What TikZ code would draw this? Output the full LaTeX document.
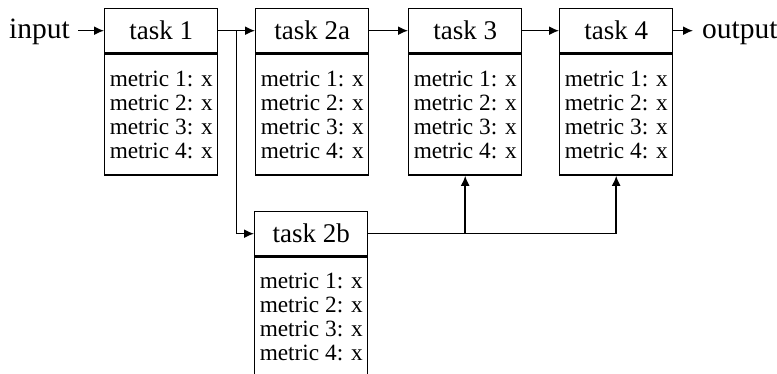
\documentclass[tikz,border=0pt]{standalone}
\usepackage{fontspec}
\setmainfont{Liberation Serif}
\usetikzlibrary{arrows.meta,calc}
\begin{document}
\begin{tikzpicture}[x=1pt,y=-1pt,
  head/.style={draw, line width=1.4pt, minimum width=113pt, minimum height=44pt, inner sep=0pt,
    font=\fontsize{27}{30}\selectfont, anchor=north west},
  body/.style={draw, line width=1.4pt, minimum width=113pt, minimum height=121pt, inner sep=0pt,
    font=\fontsize{23.3}{24}\selectfont, align=left, anchor=north},
  lbl/.style={inner sep=0pt, font=\fontsize{29.5}{32}\selectfont},
  arr/.style={line width=1.5pt, -{Latex[length=10pt,width=9pt]}}]
\useasboundingbox (0,0) rectangle (777,373);
\node[head] (h1) at (104,8) {task 1};
\node[body] (b1) at (h1.south) {metric 1: x\\metric 2: x\\metric 3: x\\metric 4: x};
\node[head] (h2a) at (255,8) {task 2a};
\node[body] (b2a) at (h2a.south) {metric 1: x\\metric 2: x\\metric 3: x\\metric 4: x};
\node[head] (h3) at (408,8) {task 3};
\node[body] (b3) at (h3.south) {metric 1: x\\metric 2: x\\metric 3: x\\metric 4: x};
\node[head] (h4) at (559,8) {task 4};
\node[body] (b4) at (h4.south) {metric 1: x\\metric 2: x\\metric 3: x\\metric 4: x};
\node[head] (h2b) at (254,211) {task 2b};
\node[body, minimum height=119pt] (b2b) at (h2b.south) {metric 1: x\\metric 2: x\\metric 3: x\\metric 4: x};
\node[lbl, anchor=base east] (in) at (70,38) {input};
\node[lbl, anchor=base west] (out) at (702,38) {output};
\coordinate (br) at ($(h1.east)!0.5!(h2a.west)$);
\draw[arr, shorten <=8pt] (in.east |- h1.west) -- (h1.west);
\draw[arr] (h1) -- (h2a);
\draw[arr] (h2a) -- (h3);
\draw[arr] (h3) -- (h4);
\draw[arr, shorten >=9pt] (h4.east) -- (out.west |- h4.east);
\draw[arr] (br) |- (h2b.west);
\draw[arr] (h2b.east) -| (b3.south);
\draw[arr] (h2b.east) -| (b4.south);
\end{tikzpicture}
\end{document}
